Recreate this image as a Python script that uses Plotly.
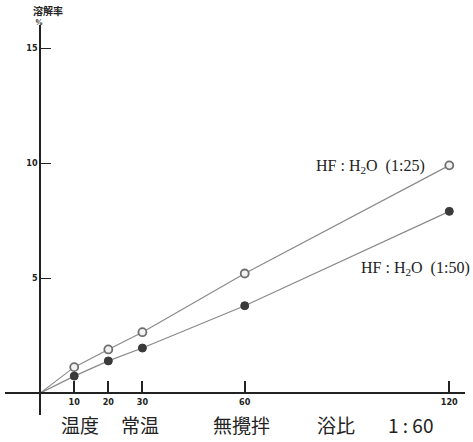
import plotly.graph_objects as go

# data (time in minutes vs dissolution rate %)
time_min = [0, 10, 20, 30, 60, 120]
rate_1_25 = [0, 1.13, 1.9, 2.65, 5.2, 9.9]
rate_1_50 = [0, 0.74, 1.4, 1.96, 3.8, 7.9]
x_ticks = [10, 20, 30, 60, 120]
x_tick_labels = ["10", "20", "30", "60", "120"]
y_ticks = [5, 10, 15]
y_tick_labels = ["5", "10", "15"]

W, H = 473, 442
ml, mr, mt, mb = 5, 8, 25, 27
xr = [-10.3, 124.6]
yr = [-0.95, 16.0]
x0_frac = (0 - xr[0]) / (xr[1] - xr[0])
y0_frac = (0 - yr[0]) / (yr[1] - yr[0])

fig = go.Figure()
fig.add_trace(go.Scatter(
    x=time_min, y=rate_1_25, mode="lines",
    line=dict(color="#8a8a8a", width=1.2), showlegend=False, hoverinfo="skip"))
fig.add_trace(go.Scatter(
    x=time_min, y=rate_1_50, mode="lines",
    line=dict(color="#8a8a8a", width=1.2), showlegend=False, hoverinfo="skip"))
fig.add_trace(go.Scatter(
    x=time_min[1:], y=rate_1_25[1:], mode="markers",
    marker=dict(symbol="circle", size=8, color="#f2f2f2",
                line=dict(color="#6e6e6e", width=1.8)),
    showlegend=False))
fig.add_trace(go.Scatter(
    x=time_min[1:], y=rate_1_50[1:], mode="markers",
    marker=dict(symbol="circle", size=8, color="#3a3a3a",
                line=dict(color="#3a3a3a", width=1)),
    showlegend=False))

tickfont = dict(size=9, family="DejaVu Sans Condensed, DejaVu Sans", weight="bold")
fig.update_layout(
    width=W, height=H,
    margin=dict(l=ml, r=mr, t=mt, b=mb, pad=0, autoexpand=False),
    paper_bgcolor="white", plot_bgcolor="white",
    font=dict(family="Liberation Serif, DejaVu Serif", color="#222"),
    xaxis=dict(range=xr, showgrid=False, zeroline=False, automargin=False,
               showline=True, linecolor="#222", linewidth=1.5,
               anchor="free", position=y0_frac,
               tickmode="array", tickvals=x_ticks, ticktext=x_tick_labels,
               ticks="inside", ticklen=11, tickwidth=2, tickcolor="#222",
               tickfont=tickfont, fixedrange=True),
    yaxis=dict(range=yr, showgrid=False, zeroline=False, automargin=False,
               showline=True, linecolor="#222", linewidth=1.5,
               anchor="free", position=x0_frac,
               tickmode="array", tickvals=y_ticks, ticktext=y_tick_labels,
               ticks="inside", ticklen=10, tickwidth=1.2, tickcolor="#222",
               tickfont=tickfont, fixedrange=True),
)

def px(xp):
    return (xp - ml) / (W - ml - mr)

def py(yp):
    return (H - mb - yp) / (H - mt - mb)

ann = []
ann.append(dict(x=px(48), y=py(11), xref="paper", yref="paper", text="溶解率",
                showarrow=False, yanchor="middle", xanchor="center",
                font=dict(size=10, family="Noto Sans CJK JP", weight="bold")))
ann.append(dict(x=px(39), y=py(22), xref="paper", yref="paper", text="%",
                showarrow=False, yanchor="middle", xanchor="center",
                font=dict(size=8, weight="bold")))
ann.append(dict(x=px(427), y=py(166), xref="paper", yref="paper",
                text="HF : H<sub>2</sub>O  (1:25)", showarrow=False,
                xanchor="right", yanchor="middle", font=dict(size=16)))
ann.append(dict(x=px(472), y=py(268), xref="paper", yref="paper",
                text="HF : H<sub>2</sub>O  (1:50)", showarrow=False,
                xanchor="right", yanchor="middle", font=dict(size=16)))
bottom = [("温度", 80), ("常温", 140), ("無攪拌", 241), ("浴比", 336), ("1 : 60", 410)]
for t, cx in bottom:
    ann.append(dict(x=px(cx), y=py(425), xref="paper", yref="paper", text=t,
                    showarrow=False, xanchor="center", yanchor="middle",
                    font=dict(size=19, family="Noto Sans CJK JP")))
fig.update_layout(annotations=ann)

fig.write_html("out.html", config={"displayModeBar": False},
               post_script="document.body.style.margin='0';")
